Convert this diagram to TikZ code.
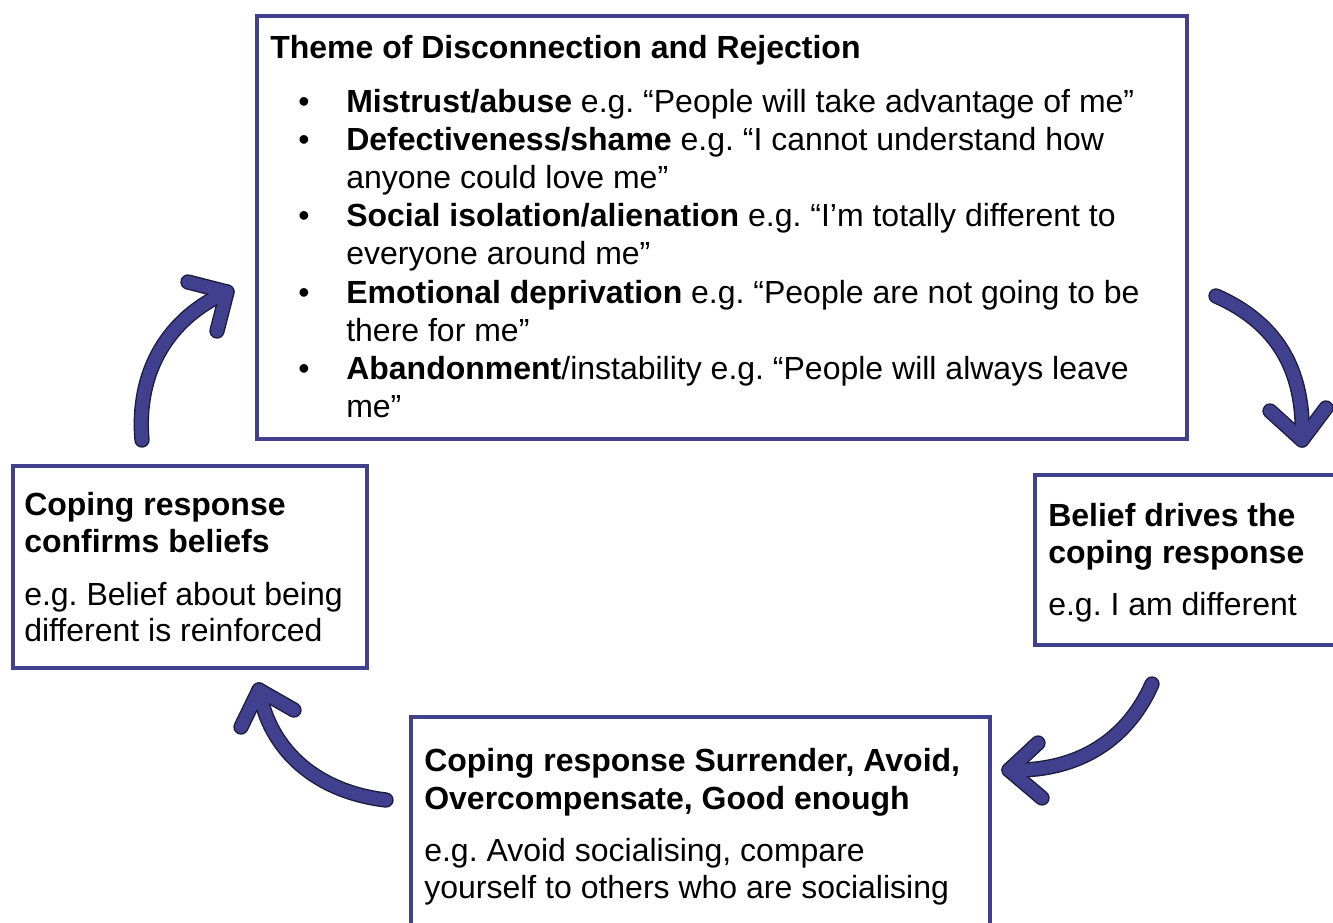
\documentclass[tikz,border=0pt]{standalone}
\usepackage{fontspec}
\setmainfont{Liberation Sans}
\frenchspacing
\definecolor{navy}{RGB}{64,64,142}
\definecolor{navydark}{RGB}{28,28,60}
\tikzset{
  box/.style={draw=navy, line width=2.9pt, fill=white, inner sep=0pt, anchor=north west},
  txt/.style={inner sep=0pt, anchor=base west, align=left, font=\fontsize{24}{28.5}\selectfont},
  hd/.style={txt, font=\fontsize{24}{27.75}\selectfont\bfseries},
  arrowout/.style={line width=11.5pt, color=navydark, line cap=round, line join=round},
  arrowin/.style={line width=9.4pt, color=navy, line cap=round, line join=round},
}
\begin{document}
\begin{tikzpicture}[x=0.75pt,y=-0.75pt]
\path[use as bounding box] (0,0) rectangle (1333,923);
\clip (0,0) rectangle (1333,923);
\fill[white] (0,0) rectangle (1333,923);
% boxes
\node[box, minimum width=930*0.75pt, minimum height=423*0.75pt] (top) at (255,14) {};
\node[box, minimum width=354*0.75pt, minimum height=202*0.75pt] (left) at (11,464) {};
\node[box, minimum width=320*0.75pt, minimum height=170*0.75pt] (right) at (1033,473) {};
\node[box, minimum width=579*0.75pt, minimum height=240*0.75pt] (bottom) at (409,715) {};
% top box text (base anchor = baseline of last line)
\node[hd] (tt) at (270,59) {Theme of Disconnection and Rejection};
\node[txt] (b1) at (298,113) {\textbullet};
\node[txt] (i1) at (346,113) {\textbf{Mistrust/abuse} e.g. “People will take advantage of me”};
\node[txt] (b2) at (298,151) {\textbullet};
\node[txt] (i2) at (346,189) {\textbf{Defectiveness/shame} e.g. “I cannot understand how\\anyone could love me”};
\node[txt] (b3) at (298,227) {\textbullet};
\node[txt] (i3) at (346,265) {\textbf{Social isolation/alienation} e.g. “I’m totally different to\\everyone around me”};
\node[txt] (b4) at (298,303) {\textbullet};
\node[txt] (i4) at (346,341) {\textbf{Emotional deprivation} e.g. “People are not going to be\\there for me”};
\node[txt] (b5) at (298,379) {\textbullet};
\node[txt] (i5) at (346,417) {\textbf{Abandonment}/instability e.g. “People will always leave\\me”};
% left box
\node[hd] (lh) at (24,552) {Coping response\\confirms beliefs};
\node[txt, font=\fontsize{24}{27}\selectfont] (lt) at (24,641) {e.g. Belief about being\\different is reinforced};
% right box
\node[hd] (rh) at (1048,563) {Belief drives the\\coping response};
\node[txt] (rt) at (1048,615) {e.g. I am different};
% bottom box
\node[hd, font=\fontsize{24}{28.5}\selectfont\bfseries] (bh) at (424,809) {Coping response Surrender, Avoid,\\Overcompensate, Good enough};
\node[txt, font=\fontsize{24}{27.75}\selectfont] (bt) at (424,898) {e.g. Avoid socialising, compare\\yourself to others who are socialising};
% arrow coordinates
\coordinate (a1s) at (1216,296);
\coordinate (a1t) at (1302,440);
\coordinate (a1l) at (1270,411);
\coordinate (a1r) at (1326,408);
\coordinate (a2s) at (142,440);
\coordinate (a2t) at (227,292);
\coordinate (a2l) at (188,282);
\coordinate (a2r) at (217,331);
\coordinate (a3s) at (1152,684);
\coordinate (a3t) at (1009,770);
\coordinate (a3l) at (1038,743);
\coordinate (a3r) at (1042,798);
\coordinate (a4s) at (386,800);
\coordinate (a4t) at (259,690);
\coordinate (a4l) at (241,727);
\coordinate (a4r) at (294,710);
\foreach \s in {arrowout,arrowin}{
  \draw[\s] (a1s) .. controls (1275,322) and (1305,368) .. (a1t);
  \draw[\s] (a1l) -- (a1t) -- (a1r);
  \draw[\s] (a2s) .. controls (136,372) and (168,318) .. (a2t);
  \draw[\s] (a2l) -- (a2t) -- (a2r);
  \draw[\s] (a3s) .. controls (1125,745) and (1072,772) .. (a3t);
  \draw[\s] (a3l) -- (a3t) -- (a3r);
  \draw[\s] (a4s) .. controls (318,792) and (270,752) .. (a4t);
  \draw[\s] (a4l) -- (a4t) -- (a4r);
}
\end{tikzpicture}
\end{document}
